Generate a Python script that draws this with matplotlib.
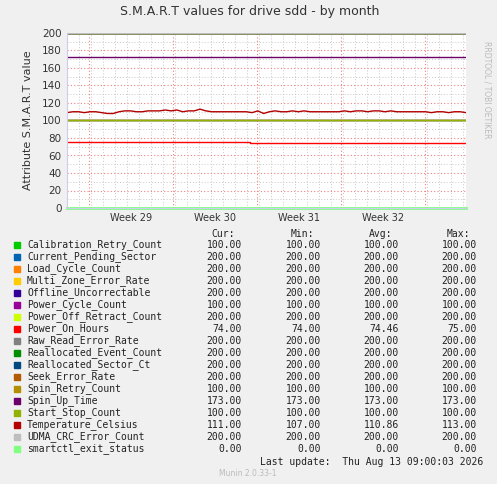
import numpy as np
import matplotlib.pyplot as plt

# series names, colours and legend stats (cur, min, avg, max)
names = ["Calibration_Retry_Count", "Current_Pending_Sector", "Load_Cycle_Count",
         "Multi_Zone_Error_Rate", "Offline_Uncorrectable", "Power_Cycle_Count",
         "Power_Off_Retract_Count", "Power_On_Hours", "Raw_Read_Error_Rate",
         "Reallocated_Event_Count", "Reallocated_Sector_Ct", "Seek_Error_Rate",
         "Spin_Retry_Count", "Spin_Up_Time", "Start_Stop_Count",
         "Temperature_Celsius", "UDMA_CRC_Error_Count", "smartctl_exit_status"]
colors = ["#00CC00", "#0066B3", "#FF8000", "#FFCC00", "#330099", "#990099",
          "#CCFF00", "#FF0000", "#808080", "#008F00", "#00487D", "#B35A00",
          "#B38F00", "#6B006B", "#8FB300", "#B30000", "#BEBEBE", "#80FF80"]
cur = [100, 200, 200, 200, 200, 100, 200, 74, 200, 200, 200, 200, 100, 173, 100, 111, 200, 0]
mins = [100, 200, 200, 200, 200, 100, 200, 74, 200, 200, 200, 200, 100, 173, 100, 107, 200, 0]
avgs = [100, 200, 200, 200, 200, 100, 200, 74.46, 200, 200, 200, 200, 100, 173, 100, 110.86, 200, 0]
maxs = [100, 200, 200, 200, 200, 100, 200, 75, 200, 200, 200, 200, 100, 173, 100, 113, 200, 0]

# time axis in days from left edge of graph
span_days = 33.25
week_starts = [1.83, 8.83, 15.83, 22.83, 29.83]
week_labels = ["Week 29", "Week 30", "Week 31", "Week 32"]
power_on_step_day = 15.25

# temperature, one sample every 12 hours
temp = [109, 110, 110, 109, 110, 110, 109, 108, 108, 110, 111, 111, 110, 110, 111, 111,
        111, 112, 111, 112, 110, 111, 111, 113, 111, 110, 110, 110, 110, 110, 110, 110,
        109, 111, 108, 110, 111, 110, 110, 111, 110, 111, 110, 110, 110, 110, 110, 110,
        111, 110, 111, 111, 110, 111, 111, 110, 111, 110, 110, 110, 110, 110, 110, 109,
        110, 110, 109, 110, 110, 109]

fig = plt.figure(figsize=(4.97, 4.84), dpi=100, facecolor="#F0F0F0")
ax = fig.add_axes([67 / 497, 1 - 208 / 484, 399 / 497, 175 / 484], facecolor="white")

t = np.array([0, span_days])
for n, c, v in zip(names, colors, cur):
    if n == "Temperature_Celsius":
        tt = np.linspace(0, span_days, len(temp))
        ax.plot(tt, temp, color=c, lw=1)
    elif n == "Power_On_Hours":
        ax.plot([0, power_on_step_day, power_on_step_day, span_days],
                [75, 75, 74, 74], color=c, lw=1)
    elif n == "smartctl_exit_status":
        ax.plot(t, [v, v], color=c, lw=2, clip_on=False)
    else:
        ax.plot(t, [v, v], color=c, lw=1)

ax.set_xlim(0, span_days)
ax.set_ylim(0, 200)
ax.set_yticks(range(0, 201, 20))
ax.set_yticks(range(0, 201, 10), minor=True)
ax.set_xticks(week_starts)
ax.set_xticklabels([])
ax.set_xticks(np.arange(0, span_days, 1), minor=True)
ax.grid(which="minor", color="#C8C8C8", ls=(0, (1, 2)), lw=0.7)
ax.grid(which="major", color="#F08080", ls=(0, (1, 2)), lw=0.8)
ax.set_axisbelow(True)
for i, lab in enumerate(week_labels):
    ax.text((week_starts[i] + week_starts[i + 1]) / 2, -6, lab, ha="center", va="top",
            fontsize=7, color="#333333", transform=ax.transData, clip_on=False)
for s in ["top", "right"]:
    ax.spines[s].set_visible(False)
for s in ["left", "bottom"]:
    ax.spines[s].set_color("#CCCCEE")
ax.tick_params(which="both", length=0, labelsize=7.5, colors="#333333", pad=4)
ax.set_ylabel("Attribute S.M.A.R.T value", fontsize=8, color="#333333", labelpad=6)

fig.text(250 / 497, 1 - 12 / 484, "S.M.A.R.T values for drive sdd - by month",
         ha="center", va="center", fontsize=9, color="#333333")
fig.text(487 / 497, 1 - 90 / 484, "RRDTOOL / TOBI OETIKER", rotation=270,
         ha="center", va="center", fontsize=5.5, color="#BBBBBB")

mono = dict(family="DejaVu Sans Mono", fontsize=7, color="#222222", va="center")
col_x = [242, 321, 399, 477]
for x, h in zip(col_x, ["Cur:", "Min:", "Avg:", "Max:"]):
    fig.text((x - 7) / 497, 1 - 234 / 484, h, ha="right", **mono)
for i, n in enumerate(names):
    y = 1 - (245 + 12 * i) / 484
    fig.patches.append(plt.Rectangle((14 / 497, y - 3 / 484), 6 / 497, 6 / 484,
                                     color=colors[i], transform=fig.transFigure))
    fig.text(27 / 497, y, n, ha="left", **mono)
    for x, vals in zip(col_x, [cur, mins, avgs, maxs]):
        fig.text(x / 497, y, f"{vals[i]:.2f}", ha="right", **mono)
fig.text(483 / 497, 1 - 462 / 484, "Last update:  Thu Aug 13 09:00:03 2026", ha="right", **mono)
fig.text(248 / 497, 1 - 473 / 484, "Munin 2.0.33-1", ha="center", va="center",
         fontsize=5.5, color="#BBBBBB")

fig.savefig("out.png", dpi=100, facecolor=fig.get_facecolor())
